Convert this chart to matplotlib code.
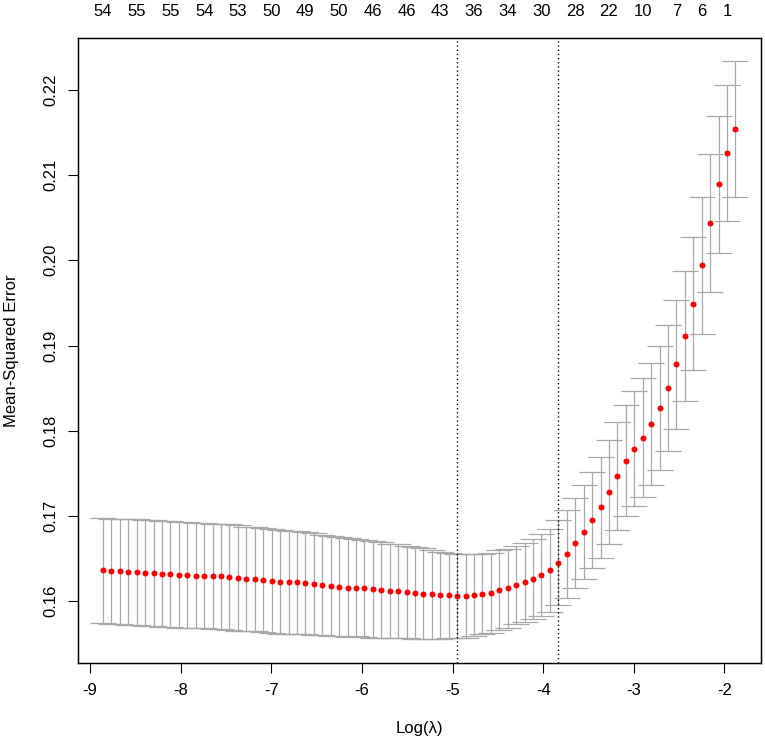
import matplotlib
matplotlib.use("Agg")
import matplotlib.pyplot as plt
from matplotlib.ticker import FixedLocator, FormatStrFormatter

plt.rcParams['font.family'] = ['Liberation Sans', 'DejaVu Sans']

# ---- data ----
log_lambda = [
    -8.856, -8.763, -8.670, -8.577, -8.484, -8.391, -8.298, -8.205, -8.112, -8.019,
    -7.926, -7.833, -7.740, -7.647, -7.554, -7.461, -7.368, -7.275, -7.182, -7.089,
    -6.996, -6.903, -6.809, -6.716, -6.623, -6.530, -6.437, -6.344, -6.251, -6.158,
    -6.065, -5.972, -5.879, -5.786, -5.693, -5.600, -5.507, -5.414, -5.321, -5.228,
    -5.135, -5.042, -4.949, -4.856, -4.763, -4.670, -4.577, -4.484, -4.391, -4.298,
    -4.205, -4.112, -4.019, -3.926, -3.833, -3.740, -3.647, -3.554, -3.461, -3.367,
    -3.274, -3.181, -3.088, -2.995, -2.902, -2.809, -2.716, -2.623, -2.530, -2.437,
    -2.344, -2.251, -2.158, -2.065, -1.972, -1.879,
]
cv_mse = [
    0.1636, 0.1635, 0.1635, 0.1634, 0.1634, 0.1633, 0.1633, 0.1632, 0.1632, 0.1631,
    0.1631, 0.1630, 0.1630, 0.1629, 0.1629, 0.1628, 0.1627, 0.1626, 0.1626, 0.1625,
    0.1624, 0.1623, 0.1622, 0.1622, 0.1621, 0.1620, 0.1619, 0.1618, 0.1617, 0.1616,
    0.1616, 0.1615, 0.1614, 0.1613, 0.1612, 0.1612, 0.1611, 0.1610, 0.1609, 0.1608,
    0.1607, 0.1607, 0.1606, 0.1606, 0.1607, 0.1608, 0.1610, 0.1613, 0.1615, 0.1619,
    0.1622, 0.1626, 0.1631, 0.1636, 0.1645, 0.1655, 0.1668, 0.1681, 0.1695, 0.1710,
    0.1728, 0.1747, 0.1765, 0.1779, 0.1792, 0.1808, 0.1827, 0.1850, 0.1878, 0.1911,
    0.1949, 0.1994, 0.2044, 0.2089, 0.2126, 0.2154,
]
cv_sd = [
    0.0062, 0.0062, 0.0062, 0.0062, 0.0062, 0.0062, 0.0062, 0.0062, 0.0062, 0.0062,
    0.0062, 0.0062, 0.0062, 0.0062, 0.0062, 0.0062, 0.0062, 0.0061, 0.0061, 0.0061,
    0.0061, 0.0061, 0.0060, 0.0060, 0.0060, 0.0060, 0.0059, 0.0059, 0.0058, 0.0058,
    0.0057, 0.0057, 0.0057, 0.0056, 0.0055, 0.0055, 0.0054, 0.0054, 0.0053, 0.0052,
    0.0051, 0.0050, 0.0049, 0.0049, 0.0048, 0.0047, 0.0047, 0.00465, 0.0046, 0.0046,
    0.00465, 0.00465, 0.0048, 0.00485, 0.0050, 0.00515, 0.0053, 0.0055, 0.00565, 0.0059,
    0.0061, 0.0063, 0.00655, 0.00675, 0.00695, 0.00715, 0.00725, 0.0074, 0.00755, 0.00765,
    0.0078, 0.0080, 0.0081, 0.00805, 0.0080, 0.0080,
]
log_lambda_min = -4.949
log_lambda_1se = -3.833

nzero_at = [-8.856, -8.484, -8.112, -7.740, -7.368, -6.996, -6.623, -6.251, -5.879, -5.507,
            -5.135, -4.763, -4.391, -4.019, -3.647, -3.274, -2.902, -2.530, -2.251, -1.972]
nzero_labels = ['54', '55', '55', '54', '53', '50', '49', '50', '46', '46',
                '43', '36', '34', '30', '28', '22', '10', '7', '6', '1']

x_ticks = [-9, -8, -7, -6, -5, -4, -3, -2]
y_ticks = [0.16, 0.17, 0.18, 0.19, 0.20, 0.21, 0.22]

# ---- figure ----
W, H = 765, 741
fig = plt.figure(figsize=(W / 100, H / 100), dpi=100)
L, R, T, B = 77.7, 760.7, 37.7, 662.7
ax = fig.add_axes([L / W, (H - B) / H, (R - L) / W, (B - T) / H])

ax.errorbar(log_lambda, cv_mse, yerr=cv_sd, fmt='none', ecolor='#A9A9A9',
            elinewidth=0.9, capsize=9.1, capthick=0.9, zorder=2)
ax.plot(log_lambda, cv_mse, 'o', color='red', markersize=4.3,
        markeredgewidth=0, zorder=3)
for v in (log_lambda_min, log_lambda_1se):
    ax.axvline(v, color='black', linewidth=1.0, linestyle=(0, (1, 2)), zorder=4)

ax.set_xlim(-9.135, -1.600)
ax.set_ylim(0.15278, 0.22612)

ax.xaxis.set_major_locator(FixedLocator(x_ticks))
ax.set_xticklabels([str(t) for t in x_ticks])
ax.yaxis.set_major_locator(FixedLocator(y_ticks))
ax.yaxis.set_major_formatter(FormatStrFormatter('%.2f'))

ax.tick_params(axis='x', direction='out', length=7.0, width=0.8, pad=7.4,
               labelsize=12, colors='black')
ax.tick_params(axis='y', direction='out', length=7.0, width=0.8, pad=6.6,
               labelsize=12, labelrotation=90, colors='black')
for lab in ax.get_yticklabels():
    lab.set_va('center')

for s in ax.spines.values():
    s.set_linewidth(1.0)
    s.set_color('black')

ax2 = ax.twiny()
ax2.set_xlim(ax.get_xlim())
ax2.xaxis.set_major_locator(FixedLocator(nzero_at))
ax2.set_xticklabels(nzero_labels)
ax2.tick_params(axis='x', length=0, pad=13.5, labelsize=12)

ax.set_xlabel('Log(\u03bb)', fontsize=12)
ax.xaxis.set_label_coords(0.5, -(721.5 - B) / (B - T))
ax.set_ylabel('Mean-Squared Error', fontsize=12)
ax.yaxis.set_label_coords(-(L - 19.5) / (R - L), 0.5)

fig.savefig('out.png', dpi=100)
